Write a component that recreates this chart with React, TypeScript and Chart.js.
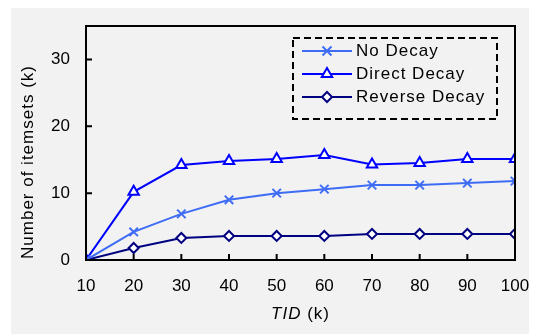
import React, { useEffect, useRef } from "react";
import { Chart, registerables } from "chart.js";

Chart.register(...registerables);

const tidK = [10, 20, 30, 40, 50, 60, 70, 80, 90, 100];
const noDecay = [0, 4.2, 6.9, 9.0, 10.0, 10.6, 11.2, 11.2, 11.5, 11.8];
const directDecay = [0, 10.2, 14.2, 14.8, 15.1, 15.7, 14.3, 14.5, 15.1, 15.1];
const reverseDecay = [0, 1.8, 3.3, 3.6, 3.6, 3.6, 3.9, 3.9, 3.9, 3.9];
const yTicks = [0, 10, 20, 30];
const seriesNames = ["No Decay", "Direct Decay", "Reverse Decay"];
const seriesColors = ["#3f6cf5", "#0000ff", "#000080"];

const FONT = "Liberation Sans, Arial, sans-serif";

function drawMarker(ctx: CanvasRenderingContext2D, style: string, x: number, y: number, r: number) {
  ctx.beginPath();
  if (style === "cross") {
    const d = r * 0.75;
    ctx.moveTo(x - d, y - d);
    ctx.lineTo(x + d, y + d);
    ctx.moveTo(x + d, y - d);
    ctx.lineTo(x - d, y + d);
    ctx.stroke();
  } else if (style === "triangle") {
    ctx.moveTo(x, y - r);
    ctx.lineTo(x + r * 0.87, y + r * 0.5);
    ctx.lineTo(x - r * 0.87, y + r * 0.5);
    ctx.closePath();
    ctx.fill();
    ctx.stroke();
  } else {
    ctx.moveTo(x, y - r);
    ctx.lineTo(x + r, y);
    ctx.lineTo(x, y + r);
    ctx.lineTo(x - r, y);
    ctx.closePath();
    ctx.fill();
    ctx.stroke();
  }
}

const decorPlugin = {
  id: "decor",
  beforeDraw(chart: any) {
    const { ctx, width, height } = chart;
    ctx.save();
    ctx.fillStyle = "#ffffff";
    ctx.fillRect(0, 0, width, height);
    ctx.fillStyle = "#f2f2f2";
    ctx.fillRect(3, 0, width - 3, height);
    ctx.restore();
  },
  afterDraw(chart: any) {
    const { ctx, chartArea: ca } = chart;
    const xs = chart.scales.x;
    const ys = chart.scales.y;
    ctx.save();
    // frame
    ctx.strokeStyle = "#000";
    ctx.lineWidth = 2;
    ctx.strokeRect(ca.left, ca.top, ca.right - ca.left, ca.bottom - ca.top);
    // ticks inward
    ctx.beginPath();
    tidK.forEach((v) => {
      const px = xs.getPixelForValue(v);
      ctx.moveTo(px, ca.bottom);
      ctx.lineTo(px, ca.bottom - 6);
    });
    yTicks.forEach((v) => {
      const py = ys.getPixelForValue(v);
      ctx.moveTo(ca.left, py);
      ctx.lineTo(ca.left + 6, py);
    });
    ctx.stroke();

    // y title
    ctx.fillStyle = "#000";
    ctx.font = `17px ${FONT}`;
    (ctx as any).letterSpacing = "1px";
    ctx.textAlign = "center";
    ctx.textBaseline = "middle";
    ctx.save();
    ctx.translate(20, 154);
    ctx.rotate(-Math.PI / 2);
    ctx.fillText("Number of itemsets (k)", 0, 0);
    ctx.restore();

    // x title: italic TID + (k)
    const cx = (ca.left + ca.right) / 2;
    const ty = 306;
    ctx.font = `italic 17px ${FONT}`;
    const w1 = ctx.measureText("TID").width;
    ctx.font = `17px ${FONT}`;
    const w2 = ctx.measureText(" (k)").width;
    const sx = cx - (w1 + w2) / 2;
    ctx.textAlign = "left";
    ctx.font = `italic 17px ${FONT}`;
    ctx.fillText("TID", sx, ty);
    ctx.font = `17px ${FONT}`;
    ctx.fillText(" (k)", sx + w1, ty);

    // legend
    const lx = 285, ly = 30, lw = 204, lh = 81;
    ctx.setLineDash([7, 4]);
    ctx.lineWidth = 2;
    ctx.strokeStyle = "#000";
    ctx.strokeRect(lx, ly, lw, lh);
    ctx.setLineDash([]);
    const rowsY = [43, 66, 89];
    chart.data.datasets.forEach((ds: any, i: number) => {
      const y = rowsY[i];
      ctx.strokeStyle = ds.borderColor;
      ctx.lineWidth = 2;
      ctx.beginPath();
      ctx.moveTo(294, y);
      ctx.lineTo(344, y);
      ctx.stroke();
      ctx.fillStyle = ds.pointBackgroundColor;
      ctx.strokeStyle = ds.borderColor;
      ctx.lineWidth = 2;
      drawMarker(ctx, ds.pointStyle, 319, y, ds.pointRadius);
      ctx.fillStyle = "#000";
      ctx.font = `17px ${FONT}`;
      ctx.textAlign = "left";
      ctx.textBaseline = "middle";
      ctx.fillText(ds.label, 348, y);
    });
    (ctx as any).letterSpacing = "0px";
    ctx.restore();
  },
};

export default function App() {
  const ref = useRef<HTMLCanvasElement>(null);
  useEffect(() => {
    if (!ref.current) return;
    const mk = (vals: number[]) => tidK.map((x, i) => ({ x, y: vals[i] }));
    const chart = new Chart(ref.current, {
      type: "line",
      data: {
        datasets: [
          {
            label: seriesNames[0],
            data: mk(noDecay),
            borderColor: seriesColors[0],
            backgroundColor: seriesColors[0],
            pointStyle: "cross",
            pointRotation: 45,
            pointRadius: 6,
            pointBorderWidth: 2,
            pointBackgroundColor: seriesColors[0],
            borderWidth: 2,
          },
          {
            label: seriesNames[1],
            data: mk(directDecay),
            borderColor: seriesColors[1],
            backgroundColor: "#ffffff",
            pointStyle: "triangle",
            pointRadius: 6,
            pointBorderWidth: 2,
            pointBackgroundColor: "#ffffff",
            borderWidth: 2,
          },
          {
            label: seriesNames[2],
            data: mk(reverseDecay),
            borderColor: seriesColors[2],
            backgroundColor: "#ffffff",
            pointStyle: "rectRot",
            pointRadius: 5,
            pointBorderWidth: 2,
            pointBackgroundColor: "#ffffff",
            borderWidth: 2,
          },
        ],
      } as any,
      options: {
        animation: false,
        responsive: false,
        devicePixelRatio: 1,
        layout: { padding: { left: 0, top: 18, right: 22, bottom: 0 } },
        plugins: { legend: { display: false }, tooltip: { enabled: false } },
        scales: {
          x: {
            type: "linear",
            min: 10,
            max: 100,
            ticks: { stepSize: 10, color: "#000", font: { family: FONT, size: 17 }, padding: 16, maxRotation: 0 },
            grid: { display: false, drawTicks: false },
            border: { display: false },
            afterFit: (s: any) => {
              s.height = 74;
              s.paddingLeft = 0;
              s.paddingRight = 0;
            },
          },
          y: {
            min: 0,
            max: 35,
            ticks: { stepSize: 10, color: "#000", font: { family: FONT, size: 17 }, padding: 16 },
            grid: { display: false, drawTicks: false },
            border: { display: false },
            afterBuildTicks: (s: any) => {
              s.ticks = s.ticks.filter((t: any) => yTicks.includes(t.value));
            },
            afterFit: (s: any) => {
              s.width = 78;
              s.paddingTop = 0;
              s.paddingBottom = 0;
            },
          },
        },
      } as any,
      plugins: [decorPlugin],
    });
    return () => chart.destroy();
  }, []);
  return <canvas ref={ref} width={529} height={326} style={{ display: "block" }} />;
}
